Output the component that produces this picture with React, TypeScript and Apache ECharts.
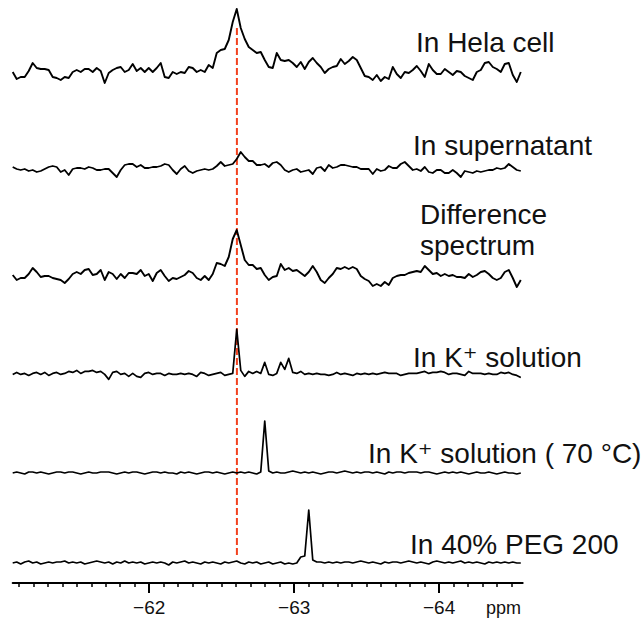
import React, { useEffect, useRef } from 'react';
import * as echarts from 'echarts';

// ppm sampling grid of every spectrum (reversed ppm axis)
const PPM_LEFT = -61.058;
const PPM_RIGHT = -64.577;
const PPM_STEP = -0.027605;

// Intensities (arbitrary units), 128 samples each
const HELA_CELL = [
  3, -4, -2, -2, 4, 12, 7, 6, 6, 5, -2, -3, -5, -2, -3, 3,
  5, 3, 6, 6, 3, 7, 4, -8, 2, 5, 7, 8, 3, 5, 11, 4,
  7, 3, 7, 3, 7, 12, -2, -3, 3, 1, 3, 2, 8, 7, 3, 5,
  3, 10, 7, 22, 25, 26, 35, 53, 66, 47, 36, 28, 25, 22, 23, 15,
  8, 7, 22, 15, 14, 15, 12, 8, 13, 6, 13, 17, 12, 8, 2, 6,
  8, 9, 16, 11, 14, 18, 15, 7, -1, -2, -5, 0, -6, -2, -4, 8,
  1, -3, 3, 2, 5, 9, 4, -2, 11, 5, 1, 1, 6, 3, 0, 4,
  3, -1, -3, -5, 3, 5, 12, 13, 8, 6, 3, 11, 12, 0, -7, 3,
];
const SUPERNATANT = [
  2, 0, -1, 0, -2, -1, -3, -2, 0, 2, 3, 2, -3, -1, -6, 0,
  1, 1, 0, 2, 1, -1, -1, 0, 0, -4, -8, -1, 4, 5, 5, 2,
  4, 1, 1, 2, 2, 3, 5, 4, -1, -5, 0, 3, -2, -4, -2, -1,
  0, -1, 0, 3, 7, 3, 4, 5, 10, 17, 12, 8, 8, 4, 4, 5,
  2, 6, 7, 4, -1, -3, -1, 0, -3, -2, -1, -5, 1, 2, -2, 4,
  1, 2, 4, 4, 3, 2, 2, 0, 0, 0, -5, 0, -2, -1, 3, 1,
  1, 5, 7, 3, -1, 0, -2, 2, -3, -4, -1, -1, -4, -4, -1, -4,
  -8, -2, -3, -4, -2, -3, -2, -1, -1, 1, 0, 1, 5, 2, -1, -2,
];
const DIFFERENCE = [
  2, -3, -1, -1, 3, 9, 5, 0, 1, 1, -1, -2, -3, -6, -2, 3,
  5, 3, 7, 8, 2, 3, 7, -3, 5, 3, -2, 3, -1, 4, 4, 3,
  7, 1, 3, -4, 4, 7, 1, -4, -1, -2, 0, 2, 6, 4, -1, -3,
  1, -3, 3, 14, 13, 11, 20, 38, 47, 32, 17, 12, 12, 8, 9, 2,
  -3, 0, 1, 13, 7, 9, 6, 7, 4, 1, 5, 11, 5, -3, -6, -1,
  3, 9, 8, 10, 8, 10, 8, 1, -2, -4, -9, -7, -9, -5, -8, -1,
  1, 2, 2, 4, 5, 6, 5, 11, 7, 3, 4, 1, 3, 1, 2, 0,
  0, -1, 3, 0, 2, 5, 6, 3, -1, -3, -1, 5, 7, -1, -10, -3,
];
const K_SOLUTION = [
  0, 2, 0, 1, -1, 1, 2, 0, 2, -1, 1, 2, 0, 1, 3, 2,
  4, 1, 3, 3, 4, 2, 3, 0, -5, 2, 3, 0, 1, -2, 1, -2,
  -3, 1, 2, 0, 1, 1, -1, 1, 0, 0, 1, 0, 1, 0, -2, 2,
  1, -1, 0, 1, 2, -1, 0, 1, 45, 4, -2, 3, 1, 3, 1, 12,
  0, -1, 1, 12, 5, 16, 2, 1, 3, 0, 1, 0, 1, 0, 0, -1,
  0, 2, 0, 1, 0, -1, 1, 0, 1, 0, 1, 0, 1, 2, 1, 1,
  1, -1, 0, 1, 1, 1, 2, 3, 1, 2, 2, 3, 2, 0, 1, 1,
  0, -1, 3, 1, 1, 1, 0, 1, 0, 0, 2, 1, 2, 0, -1, -3,
];
const K_SOLUTION_70C = [
  0, 1, 0, -1, 1, 1, 0, 1, 0, -1, 0, 1, 1, 0, 1, 1,
  0, -1, 0, 1, 0, 0, 1, 1, 1, 0, -1, 0, 1, 0, 1, 1,
  0, -1, 0, 1, 1, 0, 1, 0, 0, -1, 1, 0, 1, 0, -1, 0,
  1, 1, 0, 1, 0, -1, 0, 1, 0, 1, 0, 1, 0, -1, 1, 52,
  2, 0, 1, 0, 0, 1, 2, 1, 0, 1, 0, 1, 0, -1, 0, 1,
  1, 0, 1, 2, 1, 0, 1, 0, 1, 1, 0, 1, 0, -1, 1, 0,
  1, 1, 0, 1, 1, 1, 0, 1, 1, 0, -1, 0, 1, 0, 1, 0,
  1, 0, -1, 0, 1, 0, 0, 1, 0, -1, 0, 1, 0, 0, -1, 0,
];
const PEG_200 = [
  0, 1, -1, 1, 2, 0, 1, -1, 0, 1, 0, 1, 1, 2, 0, 1,
  0, 1, -1, 0, 1, 2, 1, 0, 1, -1, 1, 0, 2, 0, 1, 0,
  1, -1, 0, 1, 0, 1, 0, -2, 1, 0, 1, 2, 0, 1, 0, -1,
  1, 0, 1, 0, -1, 1, 0, 1, 2, 0, -1, 1, 0, 1, -1, 0,
  1, -1, 0, 1, -1, 0, -1, 0, 6, 7, 53, 3, 1, 1, 0, 1,
  0, 1, 0, 1, 1, 0, 1, 2, 1, 0, 1, 0, -1, 1, 0, 1,
  1, 0, 1, 2, 1, 0, 1, 0, -1, 1, 2, 1, 0, 1, 0, 1,
  2, 0, 1, 0, 1, 0, -1, 1, 0, 1, 0, 1, 0, 1, 0, 0,
];

const SPECTRA = [HELA_CELL, SUPERNATANT, DIFFERENCE, K_SOLUTION, K_SOLUTION_70C, PEG_200];
const SPECTRUM_NAMES = [
  'In Hela cell',
  'In supernatant',
  'Difference\nspectrum',
  'In K⁺ solution',
  'In K⁺ solution ( 70 °C)',
  'In 40% PEG 200',
];
const REFERENCE_PPM = -62.605;
const MAJOR_TICKS = [-62, -63, -64];
const AXIS_UNIT = 'ppm';

// layout (pixels / stacking offsets)
const OFFSETS = [508, 414, 306, 208.6, 110, 20];
const LINE_WIDTHS = [1.9, 1.8, 1.9, 1.7, 1.7, 1.7];
const LABEL_POS = [
  [416, 42],
  [413, 145],
  [420, 230],
  [413, 357],
  [368, 453],
  [410, 544],
];
const FONT = '"Liberation Sans", Arial, Helvetica, "DejaVu Sans", sans-serif';

export default function App() {
  const ref = useRef<HTMLDivElement>(null);
  useEffect(() => {
    if (!ref.current) return;
    const chart = echarts.init(ref.current, null, { renderer: 'svg' });
    const minorTicks: number[] = [];
    for (let k = 0; k <= 34; k++) minorTicks.push(+(-61.1 - 0.1 * k).toFixed(1));

    const series: any[] = [
      {
        type: 'line',
        z: 1,
        symbol: 'none',
        silent: true,
        data: [
          [REFERENCE_PPM, OFFSETS[5] + 8],
          [REFERENCE_PPM, OFFSETS[0] + 48],
        ],
        lineStyle: { color: '#f2421e', width: 2, type: [7, 3] },
      },
    ];
    SPECTRA.forEach((vals, s) => {
      series.push({
        type: 'line',
        z: 2,
        symbol: 'none',
        silent: true,
        data: vals.map((v, i) => [PPM_LEFT + i * PPM_STEP, OFFSETS[s] + v]),
        lineStyle: { color: '#000', width: LINE_WIDTHS[s], join: 'round' },
      });
    });

    chart.setOption({
      animation: false,
      grid: { left: 12.7, top: 0, width: 510, height: 583 },
      xAxis: [
        {
          type: 'value',
          position: 'bottom',
          min: PPM_RIGHT,
          max: PPM_LEFT,
          inverse: true,
          splitLine: { show: false },
          axisLine: { show: true, lineStyle: { color: '#000', width: 2 } },
          axisTick: { show: true, customValues: minorTicks, length: 4, lineStyle: { color: '#000', width: 1.5 } },
          axisLabel: { show: false },
        },
        {
          type: 'value',
          position: 'bottom',
          min: PPM_RIGHT,
          max: PPM_LEFT,
          inverse: true,
          splitLine: { show: false },
          axisLine: { show: false },
          axisTick: { show: true, customValues: MAJOR_TICKS, length: 10, lineStyle: { color: '#000', width: 2 } },
          axisLabel: {
            show: true,
            customValues: MAJOR_TICKS,
            formatter: (v: number) => '−' + Math.abs(v),
            fontSize: 19,
            fontFamily: FONT,
            color: '#111',
            margin: 15,
          },
        },
      ],
      yAxis: { type: 'value', min: 0, max: 583, show: false },
      series,
      graphic: [
        ...SPECTRUM_NAMES.map((name, s) => ({
          type: 'text',
          x: LABEL_POS[s][0],
          y: LABEL_POS[s][1],
          silent: true,
          style: {
            text: name,
            fontSize: 28,
            fontFamily: FONT,
            fill: '#111',
            lineHeight: 31,
            align: 'left',
            verticalAlign: 'middle',
          },
        })),
        {
          type: 'text',
          x: 486,
          y: 608,
          silent: true,
          style: { text: AXIS_UNIT, fontSize: 18, fontFamily: FONT, fill: '#111', align: 'left', verticalAlign: 'middle' },
        },
      ],
    });
    return () => chart.dispose();
  }, []);
  return (
    <div
      ref={ref}
      style={{ position: 'fixed', left: 0, top: 0, width: 643, height: 624, background: '#fff' }}
    />
  );
}
